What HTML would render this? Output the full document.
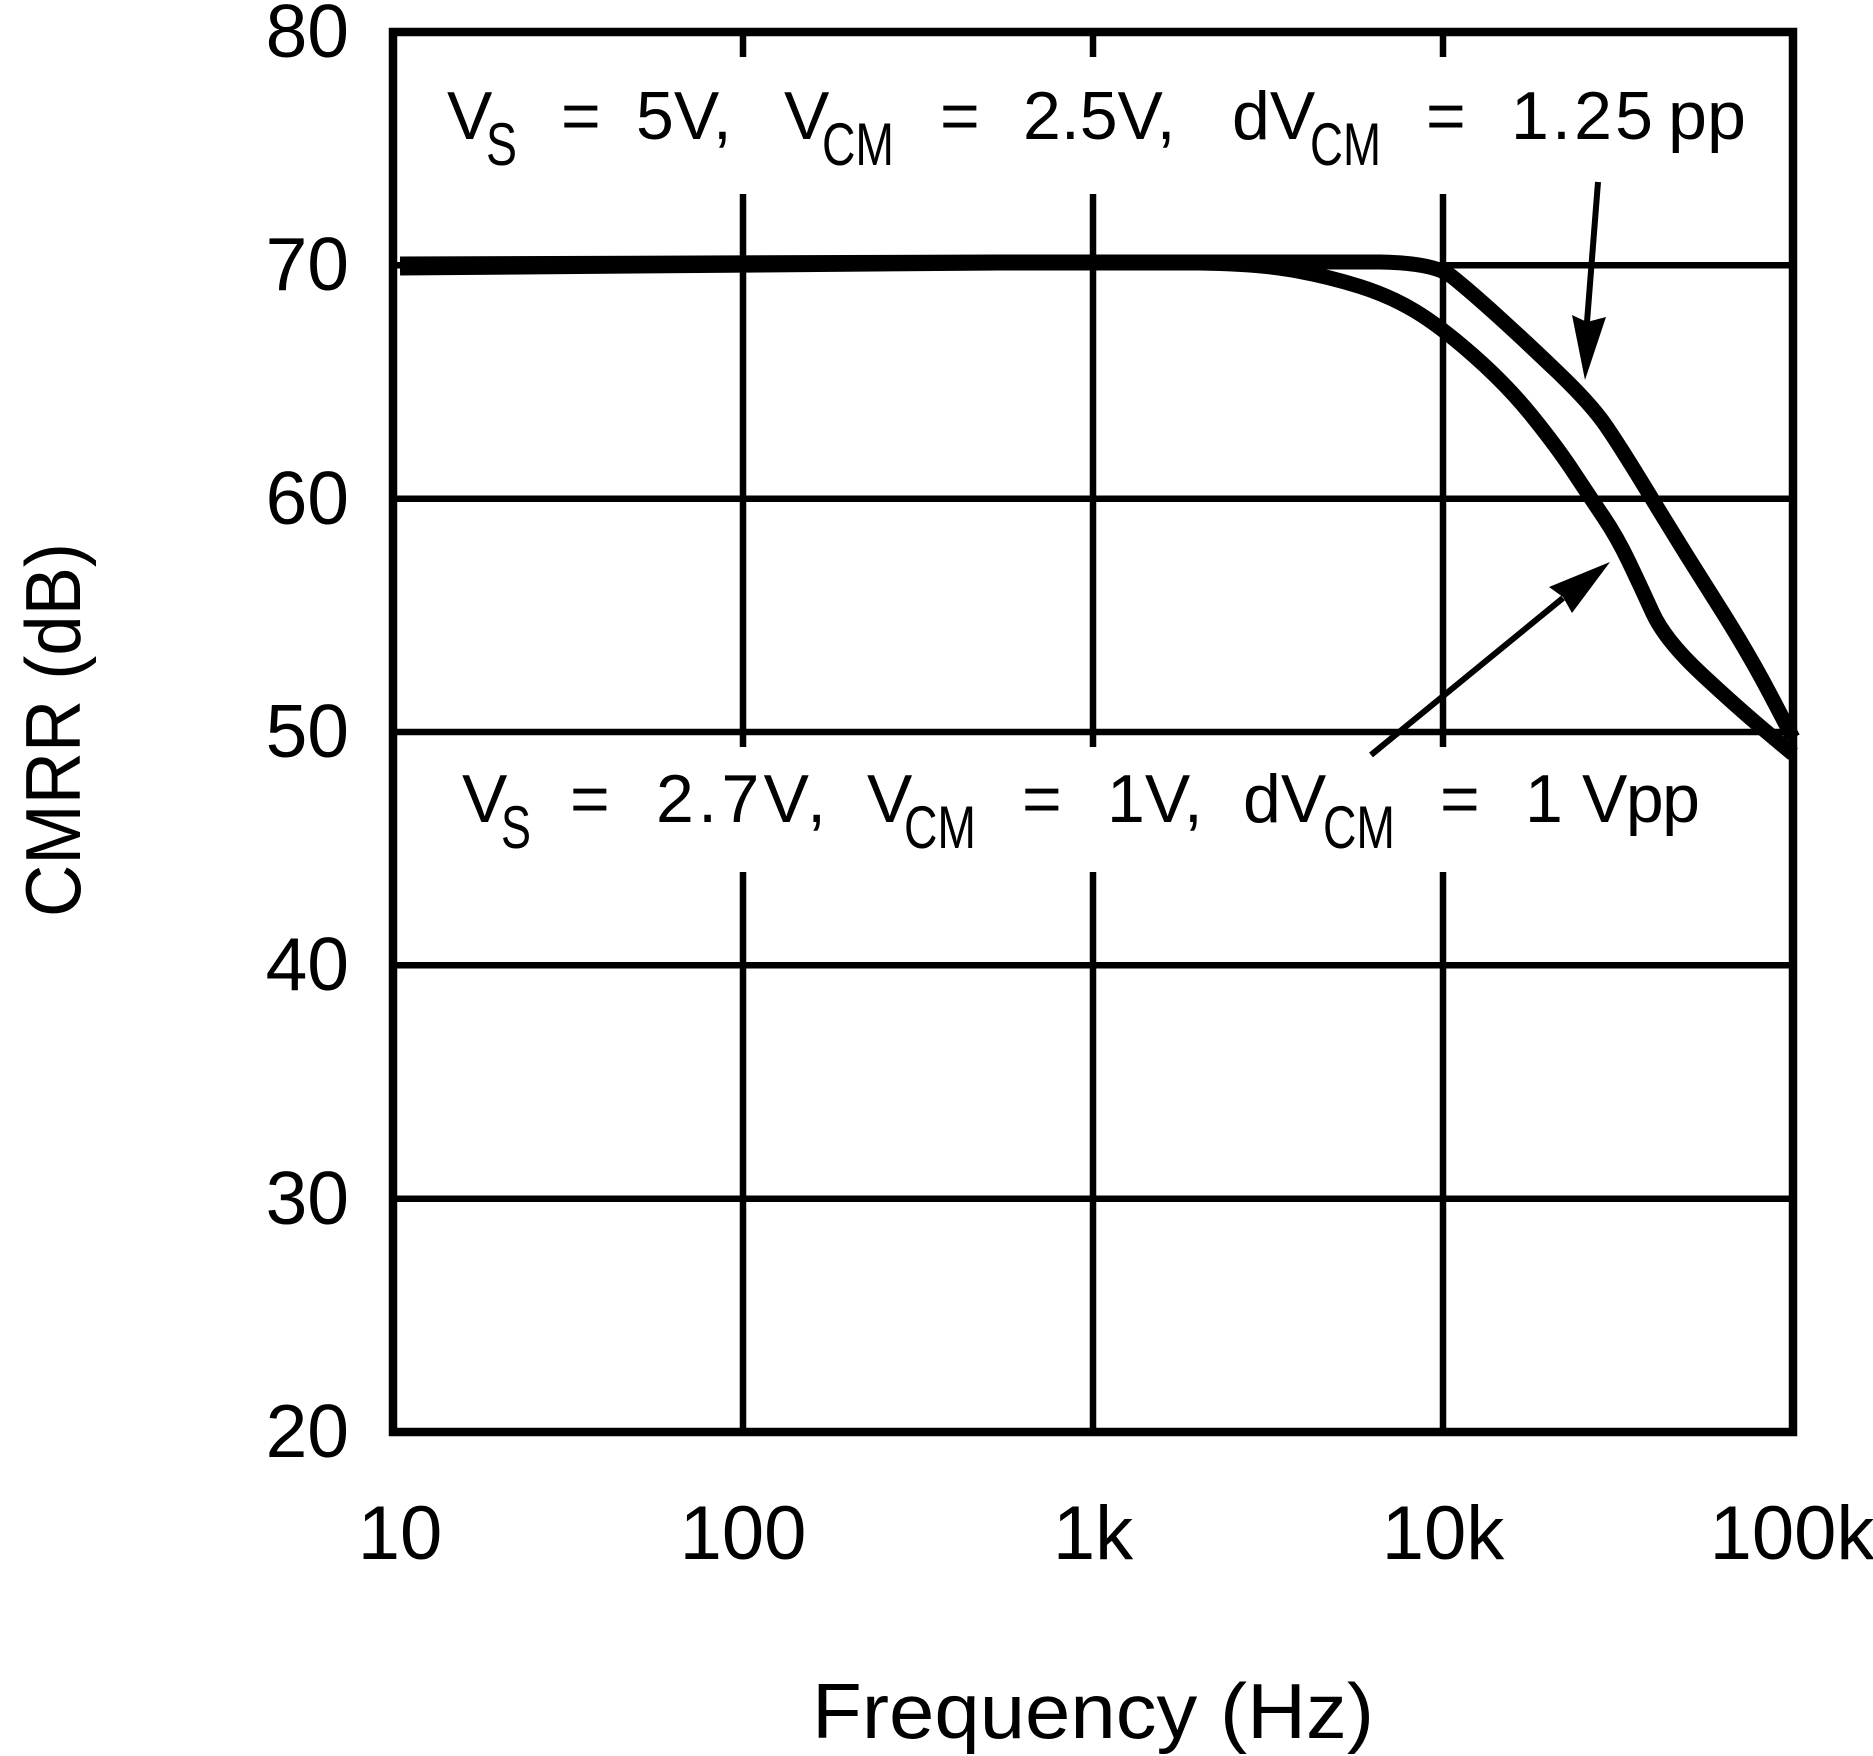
<!DOCTYPE html>
<html>
<head>
<meta charset="utf-8">
<style>
  html, body { margin:0; padding:0; background:#fff; }
  svg { display:block; }
  text { font-family: "Liberation Sans", "DejaVu Sans", sans-serif; fill:#000; }
</style>
</head>
<body>
<svg width="1873" height="1756" viewBox="0 0 1873 1756" xmlns="http://www.w3.org/2000/svg">
  <rect x="0" y="0" width="1873" height="1756" fill="#fff"/>

  <!-- horizontal gridlines -->
  <g stroke="#000" stroke-width="6.5" fill="none">
    <line x1="393" y1="265.3" x2="1793" y2="265.3"/>
    <line x1="393" y1="498.7" x2="1793" y2="498.7"/>
    <line x1="393" y1="732" x2="1793" y2="732"/>
    <line x1="393" y1="965.3" x2="1793" y2="965.3"/>
    <line x1="393" y1="1198.7" x2="1793" y2="1198.7"/>
    <!-- vertical gridlines with gaps around annotations -->
    <line x1="743" y1="32" x2="743" y2="57"/>
    <line x1="743" y1="194" x2="743" y2="747"/>
    <line x1="743" y1="872" x2="743" y2="1432"/>
    <line x1="1093" y1="32" x2="1093" y2="57"/>
    <line x1="1093" y1="194" x2="1093" y2="747"/>
    <line x1="1093" y1="872" x2="1093" y2="1432"/>
    <line x1="1443" y1="32" x2="1443" y2="57"/>
    <line x1="1443" y1="194" x2="1443" y2="747"/>
    <line x1="1443" y1="872" x2="1443" y2="1432"/>
  </g>

  <!-- plot frame -->
  <rect x="393" y="32" width="1400" height="1400" fill="none" stroke="#000" stroke-width="8.5"/>

  <!-- curves -->
  <g stroke="#000" stroke-width="15" fill="none" stroke-linejoin="round" stroke-linecap="butt">
    <path d="M400,264 L700,263 L1000,262 L1380,262 Q1435,263 1452.5,277 Q1470,291 1496.5,315 Q1523,339 1556.5,371 Q1590,403 1605,424.5 Q1620,446 1651.5,498 Q1683,550 1715.5,601 Q1748,652 1770.5,695 L1793,738"/>
    <path d="M400,268 L1000,263 L1200,263 Q1260,264 1295,270.5 Q1330,277 1360,286.5 Q1390,296 1415,311 Q1440,326 1473.5,355.5 Q1507,385 1532,416 Q1557,447 1573.5,472 Q1590,497 1603.5,517 Q1617,537 1628.5,561 Q1640,585 1652.5,612.5 Q1665,640 1701.5,674 Q1738,708 1765.5,731 L1793,754"/>
  </g>

  <!-- arrows -->
  <g stroke="#000" stroke-width="6" fill="none">
    <line x1="1598" y1="182" x2="1587" y2="322"/>
    <line x1="1371" y1="755" x2="1563" y2="598"/>
  </g>
  <polygon points="1585,380 1572,315 1587,322 1606,317" fill="#000"/>
  <polygon points="1610,562 1549,587 1563,597 1572,613" fill="#000"/>

  <!-- annotation line 1 -->
  <g font-size="68">
    <text x="447" y="139">V</text>
    <text x="561" y="139">=</text>
    <text x="636" y="139">5V,</text>
    <text x="784" y="139">V</text>
    <text x="940" y="139">=</text>
    <text x="1023" y="139">2.5V,</text>
    <text x="1232" y="139">dV</text>
    <text x="1426" y="139">=</text>
    <text x="1511" y="139" textLength="142" lengthAdjust="spacing">1.25</text>
    <text x="1668" y="139" textLength="78" lengthAdjust="spacingAndGlyphs">pp</text>
  </g>
  <g font-size="60">
    <text x="486" y="165" textLength="31" lengthAdjust="spacingAndGlyphs">S</text>
    <text x="822" y="165" textLength="72" lengthAdjust="spacingAndGlyphs">CM</text>
    <text x="1310" y="165" textLength="71" lengthAdjust="spacingAndGlyphs">CM</text>
  </g>

  <!-- annotation line 2 -->
  <g font-size="68">
    <text x="462" y="822">V</text>
    <text x="570" y="822">=</text>
    <text x="656" y="822" textLength="170" lengthAdjust="spacing">2.7V,</text>
    <text x="867" y="822">V</text>
    <text x="1022" y="822">=</text>
    <text x="1107" y="822">1V,</text>
    <text x="1243" y="822">dV</text>
    <text x="1440" y="822">=</text>
    <text x="1525" y="822">1</text>
    <text x="1582" y="822" textLength="118" lengthAdjust="spacing">Vpp</text>
  </g>
  <g font-size="60">
    <text x="501" y="848" textLength="30" lengthAdjust="spacingAndGlyphs">S</text>
    <text x="904" y="848" textLength="72" lengthAdjust="spacingAndGlyphs">CM</text>
    <text x="1323" y="848" textLength="72" lengthAdjust="spacingAndGlyphs">CM</text>
  </g>

  <!-- y tick labels -->
  <g font-size="75" text-anchor="end">
    <text x="349" y="57">80</text>
    <text x="349" y="290">70</text>
    <text x="349" y="524">60</text>
    <text x="349" y="757">50</text>
    <text x="349" y="990">40</text>
    <text x="349" y="1224">30</text>
    <text x="349" y="1457">20</text>
  </g>

  <!-- x tick labels -->
  <g font-size="76" text-anchor="middle">
    <text x="400" y="1559">10</text>
    <text x="743" y="1559">100</text>
    <text x="1093" y="1559">1k</text>
    <text x="1443" y="1559">10k</text>
    <text x="1792" y="1559">100k</text>
  </g>

  <!-- axis titles -->
  <text x="812" y="1738" font-size="78" textLength="562" lengthAdjust="spacingAndGlyphs">Frequency (Hz)</text>
  <text x="80" y="730" font-size="78" text-anchor="middle" textLength="374" lengthAdjust="spacingAndGlyphs" transform="rotate(-90 80 730)">CMRR (dB)</text>
</svg>
</body>
</html>
